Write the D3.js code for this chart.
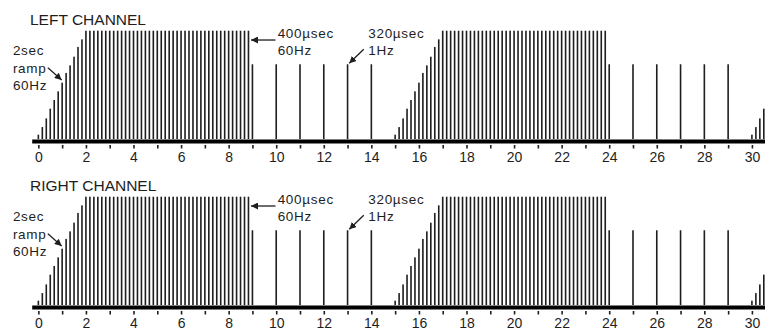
<!DOCTYPE html>
<html><head><meta charset="utf-8">
<script src="https://cdn.jsdelivr.net/npm/d3@7"></script>
<style>
html,body{margin:0;padding:0;background:#fff;}
svg{display:block;font-family:"Liberation Sans",Arial,sans-serif;}
</style>
</head><body>
<svg id="chart" width="765" height="331"></svg>
<script>
// ---------- data ----------
const channels = ["LEFT CHANNEL", "RIGHT CHANNEL"];
const pulseStep = 1 / 6;                       // spacing of drawn 60Hz pulses (s)
const rampStarts = [0, 15, 30];                // seconds
const rampAmps = [0.04, 0.11, 0.19, 0.28, 0.36, 0.44, 0.52, 0.61, 0.68, 0.76, 0.85, 0.92, 1.0];
const plateauStarts = [2, 17];                 // seconds (first pulse one step after)
const plateauAmps = [1,1,1,1,1,1,1,1,1,1, 1,1,1,1,1,1,1,1,1,1,
                     1,1,1,1,1,1,1,1,1,1, 1,1,1,1,1,1,1,1,1,1, 1];
const oneHzTimes = [9, 10, 11, 12, 13, 14, 24, 25, 26, 27, 28, 29];
const oneHzAmp = 0.69;
const tickValues = [0,1,2,3,4,5,6,7,8,9,10,11,12,13,14,15,16,17,18,19,20,21,22,23,24,25,26,27,28,29,30];
const labelValues = [0,2,4,6,8,10,12,14,16,18,20,22,24,26,28,30];
const rampNote = ["2sec", "ramp", "60Hz"];
const holdNote = ["400\u00b5sec", "60Hz"];
const slowNote = ["320\u00b5sec", "1Hz"];

// ---------- build pulse list ----------
const pulses = [];
rampStarts.forEach(s => rampAmps.forEach((a, i) => pulses.push({t: s + i * pulseStep, a})));
plateauStarts.forEach(s => plateauAmps.forEach((a, i) => pulses.push({t: s + (i + 1) * pulseStep, a})));
oneHzTimes.forEach(t => pulses.push({t, a: oneHzAmp}));

// ---------- scales ----------
const x = d3.scaleLinear().domain([-0.28, 30.55]).range([31.7, 765]);
const y = d3.scaleLinear().domain([0, 1]).range([139, 30.7]);
const ink = "#1e1e1e";

const svg = d3.select("#chart");
const defs = svg.append("defs");
defs.append("marker").attr("id", "arr").attr("viewBox", "0 0 10 10")
  .attr("refX", 10).attr("refY", 5).attr("markerWidth", 7).attr("markerHeight", 7)
  .attr("markerUnits", "userSpaceOnUse").attr("orient", "auto")
  .append("path").attr("d", "M0,0 L10,5 L0,10 Z").attr("fill", ink);

channels.forEach((name, ci) => {
  const g = svg.append("g").attr("transform", `translate(0,${ci * 166})`);

  g.append("text").attr("x", 30).attr("y", 25)
    .attr("font-size", 15.5).attr("fill", ink).text(name);

  g.append("g").selectAll("rect").data(pulses).join("rect")
    .attr("x", d => x(d.t) - 0.8).attr("width", 1.6)
    .attr("y", d => y(d.a)).attr("height", d => y(0) - y(d.a))
    .attr("fill", ink);

  const axis = d3.axisBottom(x).tickValues(tickValues).tickSizeOuter(0)
    .tickFormat(d => labelValues.includes(d) ? d : "");
  const ag = g.append("g").attr("transform", "translate(0,141)").call(axis);
  ag.select(".domain").attr("stroke", "#000").attr("stroke-width", 4);
  ag.selectAll(".tick line").attr("y1", 4).attr("y2", 7.5)
    .attr("stroke", ink).attr("stroke-width", 1.6);
  ag.selectAll(".tick text").attr("dy", null).attr("y", 20.5)
    .attr("font-size", 14).attr("fill", ink)
    .attr("font-family", '"Liberation Sans",Arial,sans-serif');

  const note = (lines, t, a) => {
    const tx = g.append("text").attr("font-size", 13.5).attr("letter-spacing", 0.7)
      .attr("fill", ink);
    lines.forEach((l, i) => tx.append("tspan").attr("x", x(t)).attr("y", y(a) + i * 17.7).text(l));
  };
  const arrow = (t1, a1, t2, a2) => g.append("line")
    .attr("x1", x(t1)).attr("y1", y(a1)).attr("x2", x(t2)).attr("y2", y(a2))
    .attr("stroke", ink).attr("stroke-width", 1.3).attr("marker-end", "url(#arr)");

  note(rampNote, -1.07, 0.776);
  arrow(0.40, 0.658, 0.98, 0.545);
  note(holdNote, 10.06, 0.937);
  arrow(9.97, 0.914, 8.94, 0.914);
  note(slowNote, 13.87, 0.937);
  arrow(13.68, 0.828, 13.07, 0.699);
});
</script>
</body></html>
